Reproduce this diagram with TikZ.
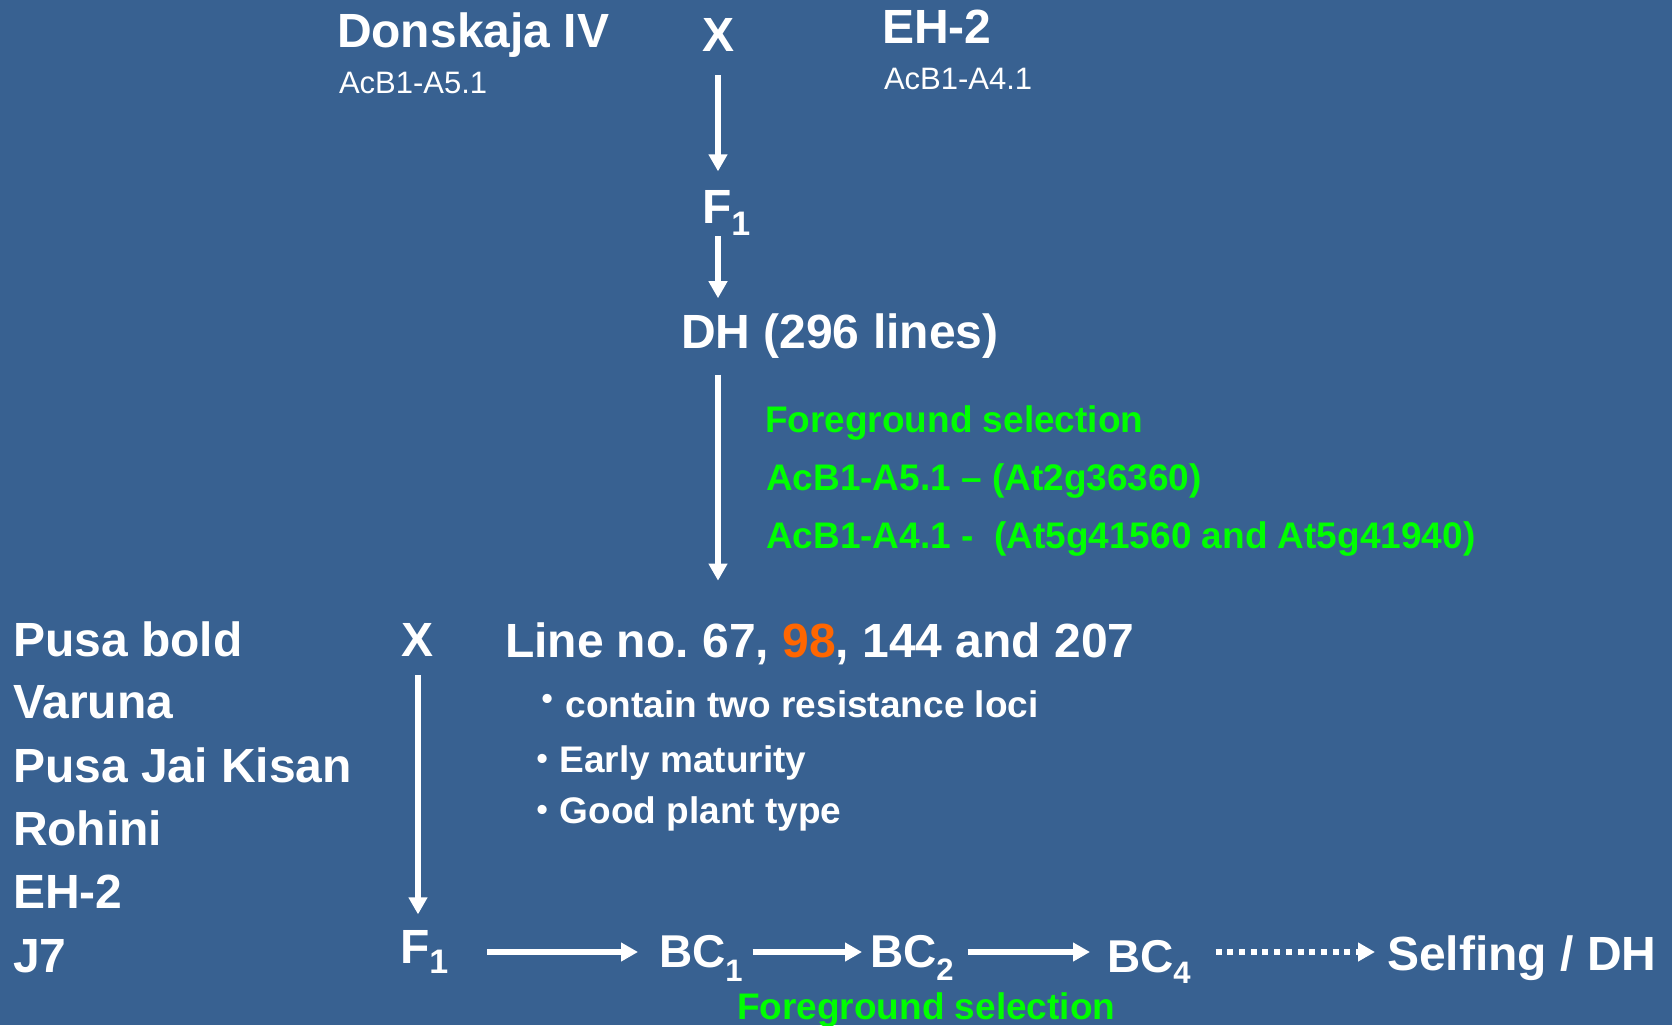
\documentclass[tikz,border=0pt]{standalone}
\usepackage{fontspec}
\setmainfont{Liberation Sans}
\usetikzlibrary{arrows.meta}
\definecolor{bg}{RGB}{56,97,145}
\definecolor{fg}{RGB}{0,255,0}
\definecolor{og}{RGB}{255,102,0}
\newcommand\subF{\fontsize{34}{34}\selectfont}
\newcommand\subB{\fontsize{31}{31}\selectfont}
\newcommand\bul{{\fontsize{32}{32}\selectfont •}}
\frenchspacing
\begin{document}
\begin{tikzpicture}[x=1pt,y=-1pt,
  txt/.style={inner sep=0pt, outer sep=0pt, anchor=base west, text=white,
    font=\bfseries\fontsize{48}{57}\selectfont},
  bcs/.style={txt, font=\bfseries\fontsize{46}{55}\selectfont},
  small/.style={txt, font=\fontsize{31}{37}\selectfont},
  mid/.style={txt, font=\bfseries\fontsize{37}{44}\selectfont},
  grn/.style={mid, text=fg},
  arr/.style={draw=white, line width=5.5pt, -{Triangle[length=17pt,width=18pt]}},
]
\fill[bg] (0,0) rectangle (1672,1025);
\useasboundingbox (0,0) rectangle (1672,1025);

% top cross
\node[txt] (don) at (337,48) {Donskaja IV};
\node[txt, anchor=base] (xa) at (718,52) {X};
\node[txt] (eh) at (882,44) {EH-2};
\node[small] (dm) at (339,93) {AcB1-A5.1};
\node[small] (em) at (884,89) {AcB1-A4.1};
\node[txt] (f1) at (702,223) {F\raisebox{-12pt}{\subF 1}};
\node[txt] (dh) at (681,348) {DH (296 lines)};

% green selection text
\node[grn] (g1) at (765,432) {Foreground selection};
\node[grn] (g2) at (766,490) {AcB1-A5.1 – (At2g36360)};
\node[grn] (g3) at (766,548) {AcB1-A4.1 -\ \ (At5g41560 and At5g41940)};

% second cross
\node[txt] (p1) at (13,656) {Pusa bold};
\node[txt] (p2) at (13,718) {Varuna};
\node[txt] (p3) at (13,782) {Pusa Jai Kisan};
\node[txt] (p4) at (13,845) {Rohini};
\node[txt] (p5) at (13,908) {EH-2};
\node[txt] (p6) at (13,972) {J7};
\node[txt, anchor=base] (xb) at (418,656) {X};
\node[txt] (ln) at (505,657) {Line no. 67, \textcolor{og}{98}, 144 and 207};
\node[mid] (b1) at (541.5,717) {\raisebox{7.4pt}{\bul}\hspace{13pt}contain two resistance loci};
\node[mid] (b2) at (536.5,772) {\raisebox{2.4pt}{\bul}\hspace{12pt}Early maturity};
\node[mid] (b3) at (536.5,823) {\raisebox{2.4pt}{\bul}\hspace{12pt}Good plant type};

% backcross row
\node[txt] (f1b) at (400,963) {F\raisebox{-10pt}{\subF 1}};
\node[bcs] (bc1) at (659,967) {BC\raisebox{-14pt}{\subB 1}};
\node[bcs] (bc2) at (870,967) {BC\raisebox{-13pt}{\subB 2}};
\node[bcs] (bc4) at (1107,972) {BC\raisebox{-11pt}{\subB 4}};
\node[txt] (sf) at (1387,970) {Selfing / DH};
\node[grn] (g4) at (737,1019) {Foreground selection};
\coordinate (row) at (0,952);

% connectors
\draw[arr, shorten <=23pt, shorten >=18.6pt] (xa.south) -- (xa.south |- f1.north);
\draw[arr, shorten <=1pt, shorten >=15pt] (xa.south |- f1.south) -- (xa.south |- dh.north);
\draw[arr, shorten <=16.6pt, shorten >=41.6pt] (xa.south |- dh.south) -- (xa.south |- ln.north);
\draw[arr, shorten <=19pt, shorten >=15.6pt] (xb.south) -- (xb.south |- f1b.north);
\draw[arr, shorten <=39pt, shorten >=21pt] (f1b.east |- row) -- (bc1.west |- row);
\draw[arr, shorten <=10pt, shorten >=8pt] (bc1.east |- row) -- (bc2.west |- row);
\draw[arr, shorten <=14pt, shorten >=17pt] (bc2.east |- row) -- (bc4.west |- row);
\draw[arr, dash pattern=on 6pt off 5.7pt, shorten <=25pt, shorten >=12pt] (bc4.east |- row) -- (sf.west |- row);
\end{tikzpicture}
\end{document}
